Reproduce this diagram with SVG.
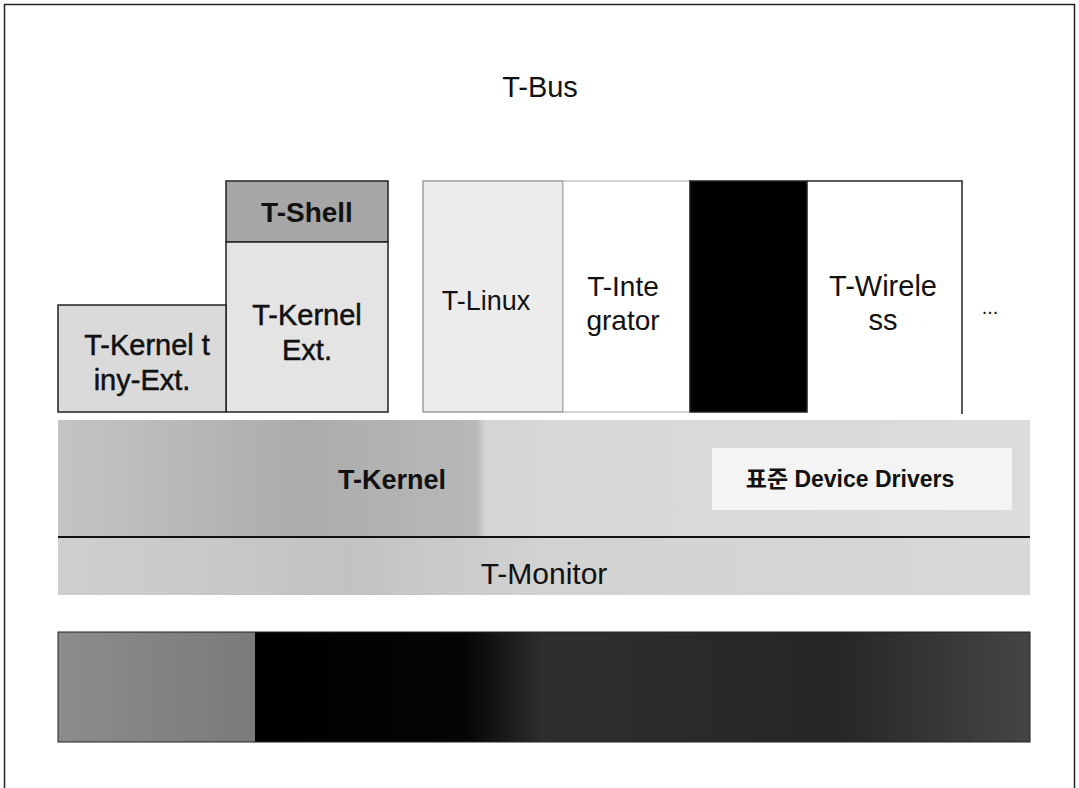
<svg xmlns="http://www.w3.org/2000/svg" width="1079" height="788" viewBox="0 0 1079 788">
<style>
.t{font-family:"Liberation Sans",Arial,"Noto Sans CJK KR",sans-serif;fill:#111;text-anchor:middle}
.h{stroke:#111;stroke-width:0.5}
.b{stroke:#222;stroke-width:1.5}
</style>
<defs>
<linearGradient id="hw" gradientUnits="userSpaceOnUse" x1="58" y1="0" x2="1030" y2="0">
<stop offset="0" stop-color="#8c8c8c"/>
<stop offset="0.2025" stop-color="#7a7a7a"/>
<stop offset="0.2026" stop-color="#000"/>
<stop offset="0.42" stop-color="#050505"/>
<stop offset="0.5" stop-color="#2e2e2e"/>
<stop offset="0.8" stop-color="#262626"/>
<stop offset="1" stop-color="#454545"/>
</linearGradient>
<linearGradient id="kg" gradientUnits="userSpaceOnUse" x1="58" y1="0" x2="1030" y2="0">
<stop offset="0" stop-color="#c4c4c4"/>
<stop offset="0.25" stop-color="#acacac"/>
<stop offset="0.43" stop-color="#b8b8b8"/>
<stop offset="0.44" stop-color="#d6d6d6"/>
<stop offset="1" stop-color="#dcdcdc"/>
</linearGradient>
<linearGradient id="mg" gradientUnits="userSpaceOnUse" x1="58" y1="0" x2="1030" y2="0">
<stop offset="0" stop-color="#cfcfcf"/>
<stop offset="0.3" stop-color="#c2c2c2"/>
<stop offset="0.5" stop-color="#d2d2d2"/>
<stop offset="1" stop-color="#d8d8d8"/>
</linearGradient>
</defs>
<rect x="0" y="0" width="1079" height="788" fill="#fff"/>
<rect x="4.5" y="4.5" width="1070" height="800" fill="none" stroke="#222" stroke-width="1.5"/>

<g id="t-bus">
<text class="t" x="540" y="97" font-size="29">T-Bus</text>
</g>

<g id="t-shell">
<rect x="226" y="181" width="162" height="61" fill="#a6a6a6" class="b"/>
<text class="t" x="307" y="222" font-size="28" font-weight="bold">T-Shell</text>
</g>

<g id="t-kernel-ext">
<rect x="226" y="242" width="162" height="170" fill="#e4e4e4" class="b"/>
<text class="t h" x="307" y="325" font-size="29">T-Kernel</text>
<text class="t h" x="307" y="360" font-size="29">Ext.</text>
</g>

<g id="t-kernel-tiny-ext">
<rect x="58" y="305" width="168" height="107" fill="#dadada" class="b"/>
<text class="t h" x="147" y="355" font-size="29">T-Kernel t</text>
<text class="t h" x="142" y="390" font-size="29">iny-Ext.</text>
</g>

<g id="t-linux">
<rect x="423" y="181" width="140" height="231" fill="#ececec" stroke="#888" stroke-width="1.2"/>
<text class="t" x="486" y="310" font-size="27">T-Linux</text>
</g>

<g id="t-integrator">
<rect x="563" y="181" width="127" height="231" fill="#fff" stroke="#aaa" stroke-width="1"/>
<text class="t" x="623" y="296" font-size="28">T-Inte</text>
<text class="t" x="623" y="330" font-size="28">grator</text>
</g>

<g id="black-box">
<rect x="690" y="181" width="117" height="231" fill="#000" class="b"/>
</g>

<g id="t-wireless">
<path d="M807 181 H962 V414" fill="none" stroke="#222" stroke-width="1.5"/>
<text class="t" x="883" y="296" font-size="29">T-Wirele</text>
<text class="t" x="883" y="330" font-size="29">ss</text>
</g>

<g id="more">
<text class="t" x="990" y="314" font-size="20">...</text>
</g>

<g id="t-kernel">
<rect x="58" y="420" width="972" height="117" fill="url(#kg)"/>
<text class="t" x="392" y="489" font-size="27" font-weight="bold">T-Kernel</text>
</g>

<g id="device-drivers">
<rect x="712" y="448" width="300" height="62" fill="#f4f4f4"/>
<text class="t" x="850" y="487" font-size="23" font-weight="bold">표준 Device Drivers</text>
</g>

<g id="t-monitor">
<rect x="58" y="537" width="972" height="58" fill="url(#mg)"/>
<text class="t" x="544" y="584" font-size="30">T-Monitor</text>
</g>

<g id="connectors">
<line x1="58" y1="537" x2="1030" y2="537" stroke="#111" stroke-width="2"/>
</g>

<g id="hardware">
<rect x="58" y="632" width="972" height="110" fill="url(#hw)" stroke="#222" stroke-width="1"/>
</g>
</svg>
